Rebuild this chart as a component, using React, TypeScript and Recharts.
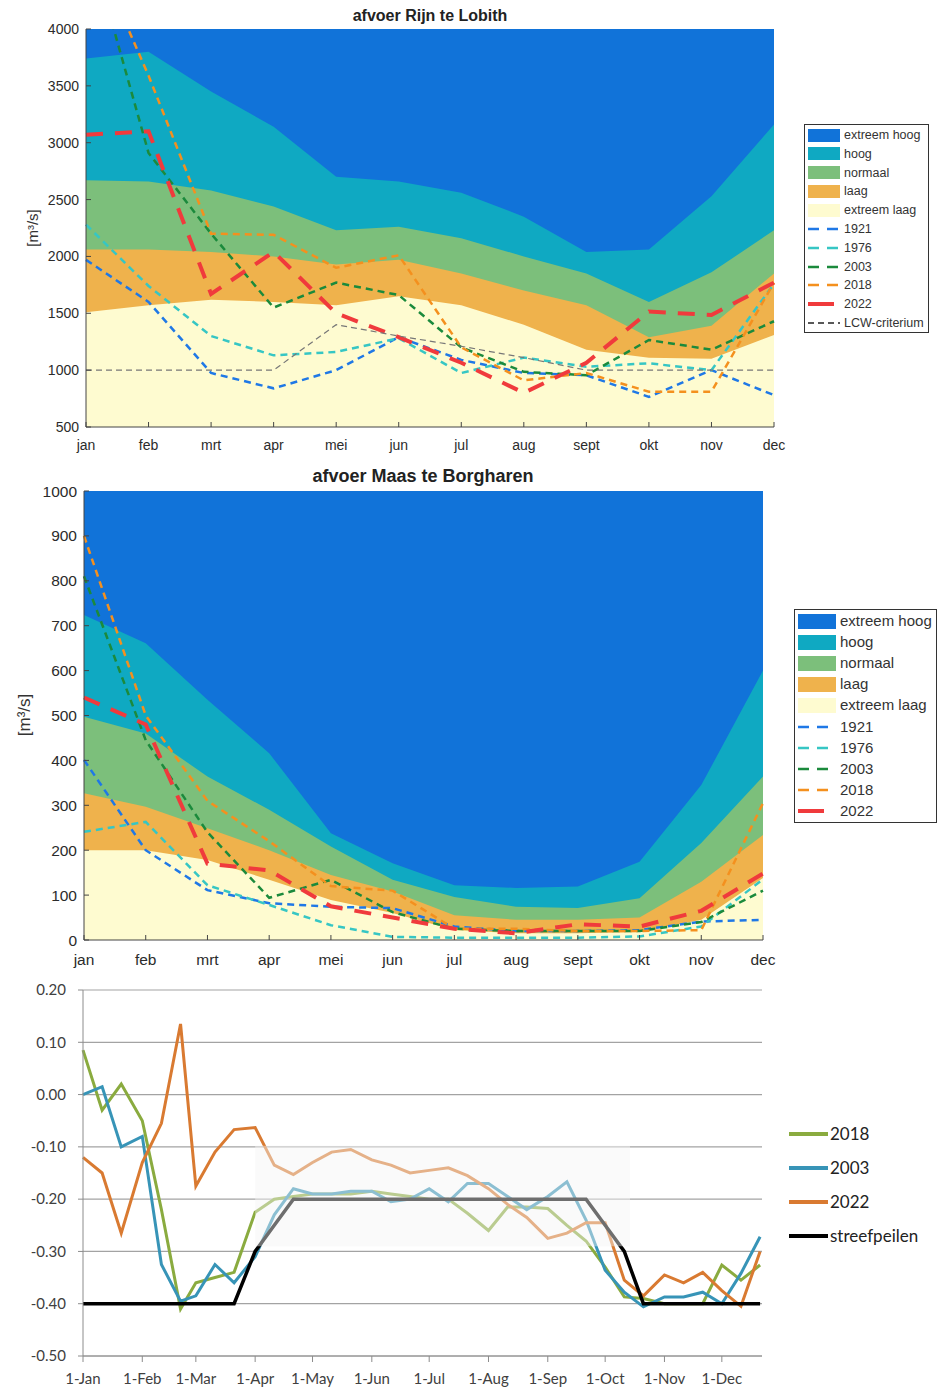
import {
  Area,
  CartesianGrid,
  ComposedChart,
  Line,
  LineChart,
  ReferenceArea,
  XAxis,
  YAxis,
} from 'recharts';

const months = ['jan', 'feb', 'mrt', 'apr', 'mei', 'jun', 'jul', 'aug', 'sept', 'okt', 'nov', 'dec'];
const monthIdx = months.map((_, i) => i);

// afvoer Rijn te Lobith, bovengrens per klasse [m3/s]
const rijnExtreemHoog = [4000, 4000, 4000, 4000, 4000, 4000, 4000, 4000, 4000, 4000, 4000, 4000];
const rijnHoog = [3740, 3800, 3450, 3140, 2700, 2660, 2560, 2350, 2040, 2060, 2530, 3160];
const rijnNormaal = [2670, 2660, 2580, 2440, 2230, 2260, 2160, 2000, 1850, 1600, 1860, 2230];
const rijnLaag = [2060, 2060, 2040, 2000, 1930, 1970, 1850, 1700, 1570, 1290, 1390, 1850];
const rijnExtreemLaag = [1510, 1570, 1620, 1600, 1570, 1650, 1570, 1400, 1180, 1110, 1100, 1310];

const rijn1921 = [1970, 1600, 975, 840, 1000, 1290, 1090, 975, 955, 765, 1000, 780];
const rijn1976 = [2280, 1740, 1300, 1130, 1160, 1280, 975, 1110, 1030, 1060, 1000, 1760];
const rijn2003 = [4870, 2910, 2200, 1550, 1770, 1660, 1200, 985, 955, 1265, 1180, 1430];
const rijn2018 = [4850, 3590, 2200, 2190, 1900, 2010, 1200, 910, 975, 810, 810, 1770];
const rijn2022 = [3070, 3100, 1670, 2040, 1500, 1290, 1065, 800, 1065, 1515, 1485, 1770];
const rijnLcw = [1000, 1000, 1000, 1000, 1400, 1300, 1210, 1110, 1000, 1000, 1000, 1000];
const rijnTicks = [500, 1000, 1500, 2000, 2500, 3000, 3500, 4000];

// afvoer Maas te Borgharen, bovengrens per klasse [m3/s]
const maasExtreemHoog = [1000, 1000, 1000, 1000, 1000, 1000, 1000, 1000, 1000, 1000, 1000, 1000];
const maasHoog = [724, 661, 535, 416, 238, 171, 122, 116, 119, 174, 345, 600];
const maasNormaal = [497, 460, 364, 290, 208, 134, 96, 74, 71, 93, 216, 364];
const maasLaag = [327, 297, 249, 200, 145, 108, 55, 45, 45, 50, 130, 234];
const maasExtreemLaag = [200, 200, 178, 134, 89, 60, 22, 15, 15, 18, 45, 138];

const maas1921 = [401, 200, 111, 82, 74, 71, 30, 20, 20, 22, 41, 45];
const maas1976 = [241, 263, 122, 78, 33, 7, 5, 5, 5, 8, 30, 135];
const maas2003 = [810, 445, 240, 94, 134, 62, 25, 20, 20, 20, 40, 110];
const maas2018 = [900, 500, 310, 220, 120, 110, 25, 25, 20, 20, 22, 305];
const maas2022 = [540, 480, 170, 155, 75, 50, 25, 15, 35, 30, 65, 148];
const maasTicks = [0, 100, 200, 300, 400, 500, 600, 700, 800, 900, 1000];

// waterpeil per decade (dag van het jaar) [m]
const peilDays = [
  0, 10, 20, 31, 41, 51, 59, 69, 79, 90, 100, 110, 120, 130, 140, 151, 161, 171, 181, 191, 201, 212,
  222, 232, 243, 253, 263, 273, 283, 293, 304, 314, 324, 334, 344, 354,
];
const peil2018 = [
  0.085, -0.03, 0.02, -0.05, -0.22, -0.41, -0.36, -0.35, -0.34, -0.225, -0.2, -0.195, -0.19, -0.19,
  -0.19, -0.185, -0.19, -0.195, -0.2, -0.2, -0.227, -0.26, -0.215, -0.215, -0.218, -0.25, -0.28,
  -0.33, -0.387, -0.39, -0.4, -0.4, -0.4, -0.326, -0.355, -0.326,
];
const peil2003 = [
  0.0, 0.015, -0.1, -0.08, -0.325, -0.395, -0.385, -0.325, -0.36, -0.31, -0.23, -0.18, -0.19, -0.19,
  -0.185, -0.185, -0.205, -0.2, -0.18, -0.205, -0.17, -0.17, -0.195, -0.22, -0.195, -0.167, -0.24,
  -0.336, -0.378, -0.406, -0.387, -0.387, -0.378, -0.4, -0.342, -0.272,
];
const peil2022 = [
  -0.12, -0.15, -0.265, -0.13, -0.055, 0.135, -0.175, -0.11, -0.067, -0.063, -0.135, -0.153, -0.13,
  -0.11, -0.105, -0.125, -0.135, -0.15, -0.145, -0.14, -0.155, -0.18, -0.21, -0.235, -0.275, -0.265,
  -0.245, -0.245, -0.355, -0.385, -0.345, -0.36, -0.34, -0.375, -0.405, -0.3,
];
const streefpeilen = [
  -0.4, -0.4, -0.4, -0.4, -0.4, -0.4, -0.4, -0.4, -0.4, -0.3, -0.25, -0.2, -0.2, -0.2, -0.2, -0.2,
  -0.2, -0.2, -0.2, -0.2, -0.2, -0.2, -0.2, -0.2, -0.2, -0.2, -0.2, -0.25, -0.3, -0.4, -0.4, -0.4,
  -0.4, -0.4, -0.4, -0.4,
];
const peilTicks = [0.2, 0.1, 0, -0.1, -0.2, -0.3, -0.4, -0.5];
const monthStartDays = [0, 31, 59, 90, 120, 151, 181, 212, 243, 273, 304, 334];
const monthStartLabels = [
  '1-Jan', '1-Feb', '1-Mar', '1-Apr', '1-May', '1-Jun', '1-Jul', '1-Aug', '1-Sep', '1-Oct', '1-Nov', '1-Dec',
];

const bandNames = ['extreem hoog', 'hoog', 'normaal', 'laag', 'extreem laag'];
const bandColors = ['#1173d9', '#0fa9c2', '#7cbf7b', '#efb24c', '#fefbd0'];

type Trace = { name: string; color: string; width: number; dash: string; legendDash: string };

const traceStyles: Trace[] = [
  { name: '1921', color: '#1f78e6', width: 2.5, dash: '7 5', legendDash: '11 8' },
  { name: '1976', color: '#36c6c4', width: 2.5, dash: '7 5', legendDash: '11 8' },
  { name: '2003', color: '#1b8a3c', width: 2.5, dash: '7 5', legendDash: '11 8' },
  { name: '2018', color: '#f4901e', width: 2.5, dash: '7 5', legendDash: '11 8' },
  { name: '2022', color: '#f03a3c', width: 4, dash: '17 12', legendDash: '26 20' },
];
const lcwStyle: Trace = { name: 'LCW-criterium', color: '#777', width: 1.2, dash: '6 4', legendDash: '6 4' };

const matlabFont = '"Liberation Sans", Arial, sans-serif';
const excelFont = 'Lato, "Open Sans", sans-serif';

type FlowChartProps = {
  top: number;
  width: number;
  height: number;
  margin: { top: number; right: number; bottom: number; left: number };
  yWidth: number;
  xHeight: number;
  domain: [number, number];
  ticks: number[];
  bands: number[][];
  traces: { style: Trace; values: number[] }[];
  fontSize: number;
  xTickMargin: number;
};

function FlowChart(p: FlowChartProps) {
  const rows = months.map((_, i) => {
    const row: Record<string, number> = { m: i };
    p.bands.forEach((b, k) => {
      row[`b${k}`] = b[i];
    });
    p.traces.forEach((t, k) => {
      row[`t${k}`] = t.values[i];
    });
    return row;
  });
  const tick = { fill: '#2b2b2b', fontSize: p.fontSize, fontFamily: matlabFont };

  return (
    <div style={{ position: 'absolute', left: 0, top: p.top }}>
      <ComposedChart width={p.width} height={p.height} data={rows} margin={p.margin}>
        {p.bands.map((_, k) => (
          <Area
            key={`b${k}`}
            xAxisId="b"
            yAxisId="l"
            type="linear"
            dataKey={`b${k}`}
            stroke="none"
            fill={bandColors[k]}
            fillOpacity={1}
            isAnimationActive={false}
          />
        ))}
        {p.traces.map((t, k) => (
          <Line
            key={`t${k}`}
            xAxisId="b"
            yAxisId="l"
            type="linear"
            dataKey={`t${k}`}
            stroke={t.style.color}
            strokeWidth={t.style.width}
            strokeDasharray={t.style.dash}
            dot={false}
            isAnimationActive={false}
          />
        ))}
        <XAxis
          xAxisId="b"
          dataKey="m"
          type="number"
          domain={[0, 11]}
          ticks={monthIdx}
          tickFormatter={(v) => months[v]}
          height={p.xHeight}
          tickSize={-5}
          tickMargin={p.xTickMargin}
          stroke="#444"
          tick={tick}
        />
        <XAxis
          xAxisId="t"
          orientation="top"
          dataKey="m"
          type="number"
          domain={[0, 11]}
          ticks={monthIdx}
          height={0}
          tickSize={-5}
          tick={false}
          stroke="#444"
        />
        <YAxis
          yAxisId="l"
          type="number"
          domain={p.domain}
          ticks={p.ticks}
          allowDataOverflow
          width={p.yWidth}
          tickSize={-5}
          tickMargin={12}
          stroke="#444"
          tick={tick}
        />
        <YAxis
          yAxisId="r"
          orientation="right"
          type="number"
          domain={p.domain}
          ticks={p.ticks}
          allowDataOverflow
          width={0}
          tickSize={-5}
          tick={false}
          stroke="#444"
        />
      </ComposedChart>
    </div>
  );
}

type LegendProps = {
  left: number;
  top: number;
  width: number;
  height: number;
  first: number;
  step: number;
  swatchW: number;
  swatchH: number;
  fontSize: number;
  traces: Trace[];
};

function FlowLegend(p: LegendProps) {
  const rows = [
    ...bandNames.map((name, k) => ({ name, band: bandColors[k], trace: null as Trace | null })),
    ...p.traces.map((t) => ({ name: t.name, band: null as string | null, trace: t })),
  ];
  return (
    <div
      style={{
        position: 'absolute',
        left: p.left,
        top: p.top,
        width: p.width,
        height: p.height,
        border: '1px solid #333',
        background: '#fff',
        boxSizing: 'border-box',
        fontFamily: matlabFont,
        fontSize: p.fontSize,
        color: '#333',
      }}
    >
      {rows.map((r, i) => {
        const cy = p.first + i * p.step;
        return (
          <div key={r.name} style={{ position: 'absolute', left: 0, top: cy - 10, height: 20, width: '100%' }}>
            {r.band ? (
              <div
                style={{
                  position: 'absolute',
                  left: 3,
                  top: 10 - p.swatchH / 2,
                  width: p.swatchW,
                  height: p.swatchH,
                  background: r.band,
                }}
              />
            ) : (
              <svg style={{ position: 'absolute', left: 3, top: 0 }} width={p.swatchW} height={20}>
                <line
                  x1={0}
                  x2={p.swatchW}
                  y1={10}
                  y2={10}
                  stroke={r.trace!.name === 'LCW-criterium' ? '#222' : r.trace!.color}
                  strokeWidth={r.trace!.name === '2022' ? 4 : r.trace!.name === 'LCW-criterium' ? 1.5 : 2.5}
                  strokeDasharray={r.trace!.legendDash}
                />
              </svg>
            )}
            <span
              style={{
                position: 'absolute',
                left: p.swatchW + 7,
                top: 0,
                lineHeight: '20px',
                whiteSpace: 'nowrap',
              }}
            >
              {r.name}
            </span>
          </div>
        );
      })}
    </div>
  );
}

const peilSeries = [
  { name: '2018', color: '#8aab3f', values: peil2018, width: 3 },
  { name: '2003', color: '#3794b7', values: peil2003, width: 3 },
  { name: '2022', color: '#d97a31', values: peil2022, width: 3 },
  { name: 'streefpeilen', color: '#000000', values: streefpeilen, width: 3.5 },
];

function PeilChart() {
  const rows = peilDays.map((d, i) => {
    const row: Record<string, number> = { d };
    peilSeries.forEach((s, k) => {
      row[`s${k}`] = s.values[i];
    });
    return row;
  });
  const tick = { fill: '#404040', fontSize: 15, fontFamily: excelFont };
  return (
    <div style={{ position: 'absolute', left: 0, top: 980 }}>
      <LineChart width={780} height={409} data={rows} margin={{ top: 10, right: 18, bottom: 0, left: 0 }}>
        <CartesianGrid vertical={false} stroke="#a3a3a3" strokeWidth={1.2} />
        <XAxis
          dataKey="d"
          type="number"
          domain={[0, 355]}
          ticks={monthStartDays}
          tickFormatter={(v) => monthStartLabels[monthStartDays.indexOf(v)]}
          height={33}
          tickSize={6}
          tickMargin={11}
          stroke="#8c8c8c"
          tick={tick}
          interval={0}
        />
        <YAxis
          type="number"
          domain={[-0.5, 0.2]}
          ticks={peilTicks}
          tickFormatter={(v) => Number(v).toFixed(2)}
          width={83}
          tickSize={5}
          tickMargin={12}
          stroke="#8c8c8c"
          tick={tick}
          interval={0}
        />
        {peilSeries.map((s, k) => (
          <Line
            key={s.name}
            type="linear"
            dataKey={`s${k}`}
            stroke={s.color}
            strokeWidth={s.width}
            dot={false}
            isAnimationActive={false}
          />
        ))}
        <ReferenceArea
          x1={90}
          x2={286}
          y1={-0.29}
          y2={-0.098}
          fill="#f3f3f3"
          fillOpacity={0.45}
          stroke="none"
          zIndex={2000}
        />
      </LineChart>
    </div>
  );
}

function PeilLegend() {
  const centers = [1134, 1168, 1202, 1236];
  return (
    <>
      {peilSeries.map((s, i) => (
        <div key={s.name} style={{ position: 'absolute', left: 789, top: centers[i] - 12, height: 24 }}>
          <div
            style={{ position: 'absolute', left: 0, top: 10, width: 39, height: 4, background: s.color }}
          />
          <span
            style={{
              position: 'absolute',
              left: 41,
              top: 0,
              lineHeight: '24px',
              fontFamily: excelFont,
              fontSize: 17,
              color: '#222',
              whiteSpace: 'nowrap',
            }}
          >
            {s.name}
          </span>
        </div>
      ))}
    </>
  );
}

function Title({ text, x, y, size }: { text: string; x: number; y: number; size: number }) {
  return (
    <div
      style={{
        position: 'absolute',
        left: x,
        top: y,
        transform: 'translate(-50%, -50%)',
        fontFamily: matlabFont,
        fontWeight: 'bold',
        fontSize: size,
        color: '#222',
        whiteSpace: 'nowrap',
      }}
    >
      {text}
    </div>
  );
}

function YLabel({ x, y, size }: { x: number; y: number; size: number }) {
  return (
    <div
      style={{
        position: 'absolute',
        left: x,
        top: y,
        transform: 'translate(-50%, -50%) rotate(-90deg)',
        fontFamily: matlabFont,
        fontSize: size,
        color: '#333',
        whiteSpace: 'nowrap',
      }}
    >
      [m³/s]
    </div>
  );
}

export default function App() {
  const rijnTraces = [rijn1921, rijn1976, rijn2003, rijn2018, rijn2022].map((values, k) => ({
    style: traceStyles[k],
    values,
  }));
  rijnTraces.push({ style: lcwStyle, values: rijnLcw });
  const maasTraces = [maas1921, maas1976, maas2003, maas2018, maas2022].map((values, k) => ({
    style: traceStyles[k],
    values,
  }));

  return (
    <div
      style={{
        position: 'absolute',
        left: 0,
        top: 0,
        width: 937,
        height: 1389,
        background: '#fff',
        overflow: 'hidden',
      }}
    >
      <FlowChart
        top={0}
        width={800}
        height={460}
        margin={{ top: 29, right: 26, bottom: 0, left: 0 }}
        yWidth={86}
        xHeight={33}
        domain={[500, 4000]}
        ticks={rijnTicks}
        bands={[rijnExtreemHoog, rijnHoog, rijnNormaal, rijnLaag, rijnExtreemLaag]}
        traces={rijnTraces}
        fontSize={14}
        xTickMargin={18}
      />
      <Title text="afvoer Rijn te Lobith" x={430} y={16} size={16} />
      <YLabel x={32} y={228} size={15} />
      <FlowLegend
        left={804}
        top={124}
        width={125}
        height={209}
        first={10}
        step={18.8}
        swatchW={32}
        swatchH={13}
        fontSize={12.5}
        traces={[...traceStyles, lcwStyle]}
      />

      <FlowChart
        top={460}
        width={800}
        height={520}
        margin={{ top: 31, right: 37, bottom: 0, left: 0 }}
        yWidth={84}
        xHeight={40}
        domain={[0, 1000]}
        ticks={maasTicks}
        bands={[maasExtreemHoog, maasHoog, maasNormaal, maasLaag, maasExtreemLaag]}
        traces={maasTraces}
        fontSize={15.5}
        xTickMargin={19}
      />
      <Title text="afvoer Maas te Borgharen" x={423} y={476} size={18} />
      <YLabel x={25} y={715} size={17} />
      <FlowLegend
        left={794}
        top={609}
        width={143}
        height={214}
        first={11}
        step={21.1}
        swatchW={38}
        swatchH={15}
        fontSize={15}
        traces={traceStyles}
      />

      <PeilChart />
      <PeilLegend />
    </div>
  );
}
